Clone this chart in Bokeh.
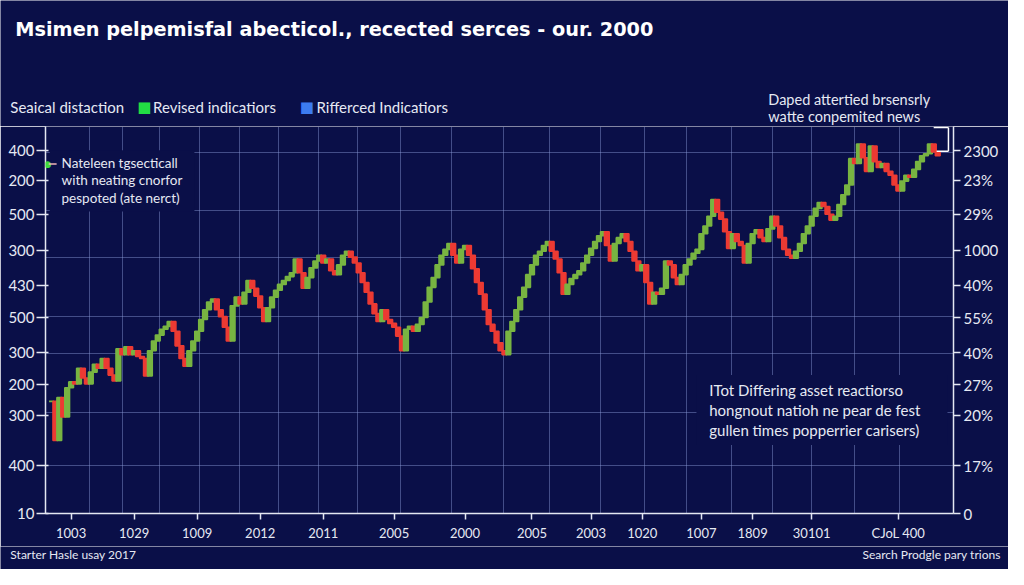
from bokeh.plotting import figure
from bokeh.layouts import column
from bokeh.models import Range1d, LinearAxis, FixedTicker, Label, BoxAnnotation, Arrow, ColumnDataSource
from bokeh.embed import file_html
from bokeh.resources import INLINE

BG = "#0a0f48"
GREEN = "#78b442"
RED = "#ec3a33"
TXT = "#e6e9f3"
GRID = "#8a9ad6"
FONT = "Lato"

# ---- data -------------------------------------------------------------
closes = [
    115, 75, 119, 99, 129, 135, 133, 149, 139, 133, 145, 153, 149, 159, 149, 142,
    136, 169, 163, 171, 163, 167, 161, 159, 141, 167, 177, 183, 189, 192, 197, 187,
    172, 159, 151, 167, 177, 187, 199, 209, 217, 220, 209, 202, 191, 177, 213, 222,
    215, 227, 239, 231, 223, 211, 197, 211, 222, 229, 235, 239, 243, 247, 261, 247,
    231, 242, 252, 259, 265, 257, 261, 249, 245, 255, 265, 269, 263, 257, 247, 237,
    227, 215, 205, 197, 209, 199, 195, 191, 182, 167, 189, 192, 187, 194, 201, 217,
    232, 242, 255, 265, 271, 277, 265, 257, 271, 275, 265, 251, 237, 225, 209, 194,
    187, 175, 167, 163, 187, 197, 209, 222, 232, 245, 255, 265, 269, 275, 279, 269,
    261, 247, 225, 235, 241, 245, 249, 257, 265, 272, 279, 285, 289, 275, 259, 277,
    283, 287, 279, 269, 259, 249, 255, 237, 215, 227, 225, 231, 259, 255, 242, 235,
    245, 255, 261, 267, 271, 287, 295, 305, 322, 309, 302, 289, 272, 287, 279, 275,
    257, 277, 287, 291, 283, 279, 292, 305, 295, 283, 271, 265, 262, 269, 277, 287,
    295, 305, 313, 319, 315, 307, 301, 305, 317, 327, 337, 364, 359, 379, 365, 351,
    377, 361, 355, 359, 351, 347, 337, 331, 341, 347, 345, 353, 361, 367, 369, 379,
    371, 367,
]
x_ticks = [5, 21, 37, 53, 69, 87, 105, 122, 137, 150, 165, 178, 193, 215]
x_labels = ["1003", "1029", "1009", "2012", "2011", "2005", "2000", "2005",
            "2003", "1020", "1007", "1809", "30101", "CJoL 400"]
y_ticks = [372, 342, 307, 270, 234, 201, 165, 132, 101, 49, 0]
left_labels = ["400", "200", "500", "300", "430", "500", "300", "200", "300", "400", "10"]
right_labels = ["2300", "23%", "29%", "1000", "40%", "55%", "40%", "27%", "20%", "17%", "0"]
x_grid = [9.75, 18, 27.5, 37.5, 47.75, 57.75, 67.75, 77.75, 88.5, 101.5, 114.75,
          126.5, 139.5, 150.5, 161.25, 172.75, 183, 193, 203.75, 215.25]
y_grid = [370, 311, 263, 202, 164, 104, 49]

title_text = "Msimen pelpemisfal abecticol., recected serces - our. 2000"
legend_title = "Seaical distaction"
legend_items = ["Revised indicatiors", "Rifferced Indicatiors"]
legend_colors = ["#22dd44", "#3d7bf0"]
note_left = ["Nateleen tgsecticall", "with neating cnorfor", "pespoted (ate nerct)"]
note_top = ["Daped attertied brsensrly", "watte conpemited news"]
note_bottom = ["ITot Differing asset reactiorso", "hongnout natioh ne pear de fest",
               "gullen times popperrier carisers)"]
footer_left = "Starter Hasle usay 2017"
footer_right = "Search Prodgle pary trions"

# ---- layout geometry (reference pixels -> canvas pixels) ---------------
W, H = 1008, 569
def X(px):
    return px * W / 1024.0
def Y(py):
    return py * H / 585.0

H_TOP = 126                  # header canvas height
F_LEFT, F_RIGHT = 45, 953    # main frame edges
F_TOP, F_BOT = 126, 513      # main frame edges (overall canvas)
H_MAIN = 546 - H_TOP         # main canvas height
H_FOOT = H - 546             # footer canvas height

def lab(fig, x, y, text, size="14px", color=TXT, style="normal", align="left", font=FONT):
    fig.add_layout(Label(x=x, y=y, x_units="screen", y_units="screen", text=text,
                         text_font=font, text_font_size=size, text_color=color,
                         text_font_style=style, text_align=align, text_baseline="middle"))

def line_seg(fig, xs, ys, xe, ye, color="#ffffff"):
    fig.add_layout(Arrow(end=None, x_start=xs, y_start=ys, x_end=xe, y_end=ye,
                         start_units="screen", end_units="screen",
                         line_color=color, line_width=1.5))

def blank(h):
    f = figure(width=W, height=h, output_backend="svg", toolbar_location=None,
               x_range=Range1d(0, W), y_range=Range1d(0, h),
               x_axis_type=None, y_axis_type=None, min_border=0,
               min_border_left=0, min_border_right=0, min_border_top=0, min_border_bottom=0,
               frame_align=False)
    f.xgrid.grid_line_color = None
    f.ygrid.grid_line_color = None
    f.background_fill_color = BG
    f.border_fill_color = BG
    f.outline_line_color = None
    return f

# ---- header -------------------------------------------------------------
top = blank(H_TOP)
def TY(py):
    return H_TOP - Y(py)
lab(top, X(15), TY(30), title_text, size="19.3px", color="#ffffff", style="bold", font="DejaVu Sans")
lab(top, X(10), TY(110), legend_title, size="15px")
lab(top, X(139), TY(110), "■", size="15px", color=legend_colors[0], font="DejaVu Sans")
lab(top, X(155), TY(110), legend_items[0], size="15px")
lab(top, X(304), TY(110), "■", size="15px", color=legend_colors[1], font="DejaVu Sans")
lab(top, X(321), TY(110), legend_items[1], size="15px")
lab(top, X(780), 27, note_top[0], size="14.5px")
lab(top, X(780), 10, note_top[1], size="14.5px")

# ---- main chart ---------------------------------------------------------
idx = list(range(len(closes)))
opens = [closes[0]] + closes[:-1]
tops = [max(o, c) for o, c in zip(opens, closes)]
bots = [min(o, c) for o, c in zip(opens, closes)]
cols = [GREEN if c >= o else RED for o, c in zip(opens, closes)]
src = ColumnDataSource(dict(x=idx, top=tops, bottom=bots, color=cols))

p = figure(width=W, height=H_MAIN, output_backend="svg", toolbar_location=None,
           x_range=Range1d(-1.5, 229), y_range=Range1d(0, 397),
           min_border_left=F_LEFT, min_border_right=W - F_RIGHT,
           min_border_top=0, min_border_bottom=H_TOP + H_MAIN - F_BOT,
           frame_align=False)
p.background_fill_color = BG
p.border_fill_color = BG
p.outline_line_color = None

p.vbar(x="x", top="top", bottom="bottom", width=1.2, fill_color="color",
       line_color="color", line_width=1.6, source=src)

p.xgrid.ticker = FixedTicker(ticks=x_grid)
p.ygrid.ticker = FixedTicker(ticks=y_grid)
for g in (p.xgrid, p.ygrid):
    g.grid_line_color = GRID
    g.grid_line_alpha = 0.45
    g.grid_line_width = 1

def style_axis(ax, size):
    ax.axis_line_color = "#e4e7f2"
    ax.axis_line_width = 1.5
    ax.major_tick_line_color = "#e4e7f2"
    ax.major_tick_line_width = 1.5
    ax.minor_tick_line_color = None
    ax.major_label_text_color = TXT
    ax.major_label_text_font = FONT
    ax.major_label_text_font_size = size

xa = p.xaxis[0]
xa.ticker = FixedTicker(ticks=x_ticks)
xa.major_label_overrides = {t: l for t, l in zip(x_ticks, x_labels)}
style_axis(xa, "13px")
xa.major_tick_out = 6
xa.major_tick_in = 0
xa.major_label_standoff = 5

ya = p.yaxis[0]
ya.ticker = FixedTicker(ticks=y_ticks)
ya.major_label_overrides = {t: l for t, l in zip(y_ticks, left_labels)}
style_axis(ya, "15px")
ya.major_tick_out = 9
ya.major_tick_in = 3
ya.major_label_standoff = 2

ra = LinearAxis(ticker=FixedTicker(ticks=y_ticks))
ra.major_label_overrides = {t: l for t, l in zip(y_ticks, right_labels)}
style_axis(ra, "15px")
ra.major_tick_out = 7
ra.major_tick_in = 0
ra.major_label_standoff = 3
p.add_layout(ra, "right")

def MX(px):
    return X(px) - F_LEFT
def MY(py):
    return F_BOT - Y(py)

# cover boxes behind notes
for l, r, b, t in [(50, 197, 217, 154), (707, 962, 457, 385)]:
    p.add_layout(BoxAnnotation(left=MX(l), right=MX(r), bottom=MY(b), top=MY(t),
                               left_units="screen", right_units="screen",
                               bottom_units="screen", top_units="screen",
                               fill_color=BG, fill_alpha=1, line_alpha=0))

lab(p, MX(48), MY(168), "●", size="9px", color="#3ddc3d", align="center", font="DejaVu Sans")
line_seg(p, MX(49), MY(168), MX(57), MY(168), color="#f2b6b6")
for k, t in enumerate(note_left):
    lab(p, MX(62), MY(167 + 18 * k), t, size="13.5px")

line_seg(p, MX(948), F_BOT - F_TOP - 1, MX(963), F_BOT - F_TOP - 1)
line_seg(p, MX(963), F_BOT - F_TOP - 1, MX(963), MY(155))
line_seg(p, MX(963), MY(155), MX(951), MY(155))

for k, t in enumerate(note_bottom):
    lab(p, MX(720), MY(400 + 21 * k), t, size="15px")

# ---- footer -------------------------------------------------------------
foot = blank(H_FOOT)
def FY(py):
    return H - Y(py)
lab(foot, X(10), FY(570), footer_left, size="12px")
lab(foot, X(1016), FY(570), footer_right, size="12px", align="right")

layout = column(top, p, foot, spacing=0)
open("out.html", "w").write(file_html(layout, INLINE))
